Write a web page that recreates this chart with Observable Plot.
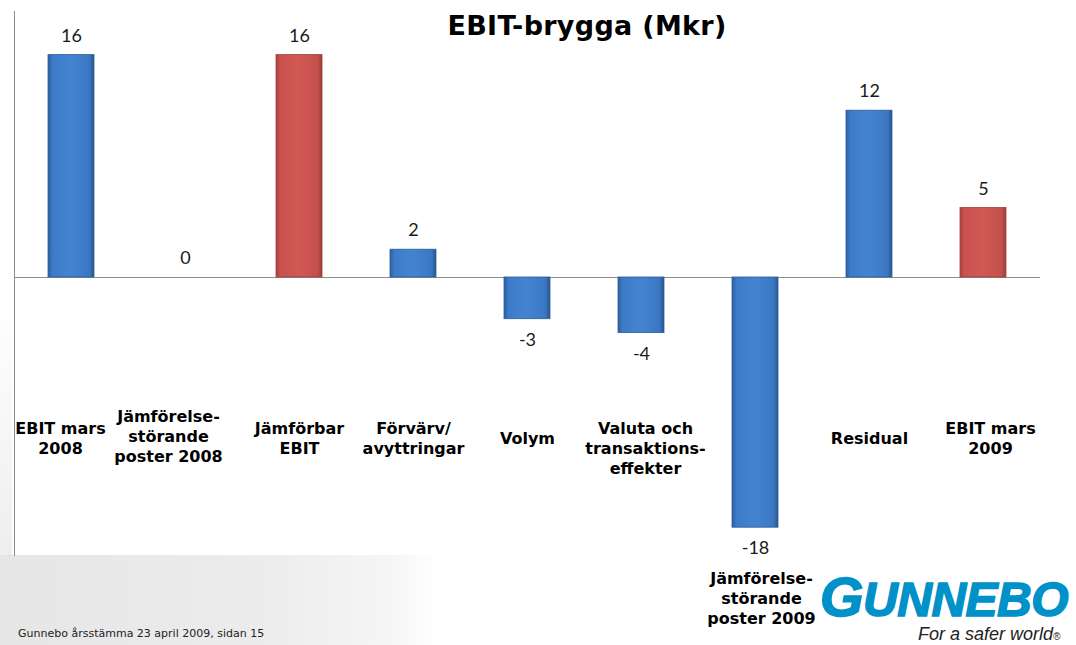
<!DOCTYPE html>
<html>
<head>
<meta charset="utf-8">
<script src="https://cdn.jsdelivr.net/npm/d3@7"></script>
<script src="https://cdn.jsdelivr.net/npm/@observablehq/plot@0.6"></script>
<style>
  html, body { margin: 0; padding: 0; background: #fff; }
  #wrap { position: relative; width: 1076px; height: 645px; overflow: hidden; }
  #bg { position: absolute; left: 0; top: 555px; width: 440px; height: 90px;
        background: linear-gradient(90deg, #e6e6e6 0%, #ececec 60%, #f6f6f6 90%, #ffffff 100%); }
  #bgl { position: absolute; left: 0; top: 300px; width: 12px; height: 255px;
        background: linear-gradient(180deg, #ffffff 0%, #eeeeee 100%); }
  #chart { position: absolute; left: 0; top: 0; }
  #title { position: absolute; left: 0; width: 1174px; top: 10px; text-align: center;
           font: bold 27px "DejaVu Sans", Verdana, sans-serif; color: #000; letter-spacing: 0.3px; }
  #footer { position: absolute; left: 18px; top: 627px; font: 11px "DejaVu Sans", Verdana, sans-serif; color: #222; }
  #logo { position: absolute; left: 820px; top: 572px; height: 50px; font: italic 900 48px "Liberation Sans", Arial, sans-serif;
          color: #0091c9; letter-spacing: -0.5px; line-height: 50px; -webkit-text-stroke: 1.5px #0091c9; white-space: nowrap; }
  #logo .g { font-size: 56px; }
  #tag { position: absolute; left: 918px; top: 624px; font: italic 18px "Liberation Sans", Arial, sans-serif; color: #222; line-height: 20px; }
  #tag sup { font-size: 10px; vertical-align: 0; }
</style>
</head>
<body>
<div id="wrap">
  <div id="bg"></div>
  <div id="bgl"></div>
  <div id="chart"></div>
  <div id="title">EBIT-brygga (Mkr)</div>
  <div id="footer">Gunnebo årsstämma 23 april 2009, sidan 15</div>
  <div id="logo"><span class="g">G</span>UNNEBO</div>
  <div id="tag">For a safer world<sup>®</sup></div>
</div>
<script>
// ---- data ----
const categories = [
  "EBIT mars 2008",
  "Jämförelsestörande poster 2008",
  "Jämförbar EBIT",
  "Förvärv/avyttringar",
  "Volym",
  "Valuta och transaktionseffekter",
  "Jämförelsestörande poster 2009",
  "Residual",
  "EBIT mars 2009"
];
const categoryLines = [
  ["EBIT mars", "2008"],
  ["Jämförelse-", "störande", "poster 2008"],
  ["Jämförbar", "EBIT"],
  ["Förvärv/", "avyttringar"],
  ["Volym"],
  ["Valuta och", "transaktions-", "effekter"],
  ["Jämförelse-", "störande", "poster 2009"],
  ["Residual"],
  ["EBIT mars", "2009"]
];
const values = [16, 0, 16, 2, -3, -4, -18, 12, 5];
const resultCategories = ["Jämförbar EBIT", "EBIT mars 2009"];

// ---- table ----
const data = categories.map((c, i) => ({
  category: c,
  value: values[i],
  label: categoryLines[i].join("\n"),
  result: resultCategories.includes(c)
}));

// label placement (style, in code)
const labelCenter = c =>
  c === "Jämförelsestörande poster 2009" ? 597 :
  c === "Valuta och transaktionseffekter" ? 447 :
  c === "Jämförelsestörande poster 2008" ? 435 : 437;
const labelShift = c =>
  c === "EBIT mars 2008" ? -11 :
  c === "Jämförelsestörande poster 2008" ? -17 :
  c === "Valuta och transaktionseffekter" ? 4 :
  c === "Jämförelsestörande poster 2009" ? 6 :
  c === "EBIT mars 2009" ? 7 : 0;

const W = 1076, H = 645, mTop = 11, mBottom = 90;
const pxPerUnit = 13.9;
const yTop = (277 - mTop) / pxPerUnit;
const yBottom = -((H - mBottom) - 277) / pxPerUnit;

const plot = Plot.plot({
  width: W,
  height: H,
  marginLeft: 14,
  marginRight: 36,
  marginTop: mTop,
  marginBottom: mBottom,
  x: { domain: categories, paddingInner: 0.6, paddingOuter: 0.3, axis: null },
  y: { domain: [yBottom, yTop], axis: null },
  style: { background: "transparent", overflow: "visible" },
  marks: [
    Plot.frame({ anchor: "left", stroke: "#8c8c8c", strokeWidth: 1 }),
    Plot.ruleY([0], { stroke: "#8c8c8c", strokeWidth: 1 }),
    Plot.barY(data.filter(d => !d.result && d.value !== 0), {
      x: "category", y: "value", fill: "url(#gradBlue)", stroke: "#2c5c99", strokeWidth: 0.8
    }),
    Plot.barY(data.filter(d => d.result), {
      x: "category", y: "value", fill: "url(#gradRed)", stroke: "#9e403d", strokeWidth: 0.8
    }),
    Plot.text(data.filter(d => d.value >= 0), {
      x: "category", y: "value", text: d => String(d.value), dy: -19,
      fontSize: 18, fontFamily: "Lato, 'Open Sans', sans-serif", fill: "#1a1a1a"
    }),
    Plot.text(data.filter(d => d.value < 0), {
      x: "category", y: "value", text: d => String(d.value), dy: 21,
      fontSize: 18, fontFamily: "Lato, 'Open Sans', sans-serif", fill: "#1a1a1a"
    }),
    ...data.map(d => Plot.text([d], {
      x: "category",
      y: (277 - labelCenter(d.category)) / pxPerUnit,
      dx: labelShift(d.category),
      text: "label",
      lineAnchor: "middle",
      lineHeight: 1.25,
      fontSize: 16,
      fontWeight: "bold",
      fontFamily: "'DejaVu Sans', Verdana, sans-serif",
      fill: "#000"
    }))
  ]
});

// gradients for the bevelled bars
const svg = d3.select(plot);
const defs = svg.insert("defs", ":first-child");
function grad(id, stops) {
  const g = defs.append("linearGradient").attr("id", id)
    .attr("x1", "0").attr("x2", "1").attr("y1", "0").attr("y2", "0");
  stops.forEach(([o, c]) => g.append("stop").attr("offset", o).attr("stop-color", c));
}
grad("gradBlue", [[0, "#2e5fa0"], [0.1, "#3d7bc7"], [0.5, "#4384d2"], [0.9, "#3a77c1"], [1, "#2a568f"]]);
grad("gradRed", [[0, "#a8433f"], [0.1, "#c9524e"], [0.5, "#d05955"], [0.9, "#c54f4b"], [1, "#9c3d3a"]]);

document.getElementById("chart").appendChild(plot);
</script>
</body>
</html>
